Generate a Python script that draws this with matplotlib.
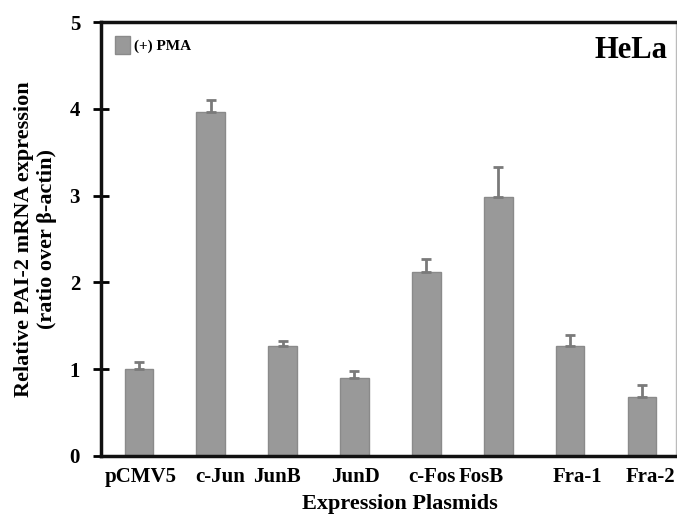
import matplotlib
matplotlib.use("Agg")
import matplotlib.pyplot as plt
import matplotlib.transforms as mtransforms
import numpy as np

categories = ["pCMV5", "c-Jun", "JunB", "JunD", "c-Fos", "FosB", "Fra-1", "Fra-2"]
values = [1.0, 3.97, 1.27, 0.90, 2.12, 2.98, 1.27, 0.68]
errors = [0.08, 0.13, 0.06, 0.08, 0.15, 0.35, 0.12, 0.14]
yticks = [0, 1, 2, 3, 4, 5]

# horizontal nudges (in points) of the category labels, as in the original figure
label_nudge_pt = [1, 7, -4, 1, 4, -12, 5, 6]

plt.rcParams['font.family'] = ['Liberation Serif', 'DejaVu Serif']
plt.rcParams['font.weight'] = 'bold'

fig = plt.figure(figsize=(6.77, 5.15), dpi=100)
ax = fig.add_axes([0.149, 0.1146, 0.849, 0.8424])

x = np.arange(len(categories))
ax.bar(x, values, width=0.40, color='#999999', edgecolor='#8a8a8a', linewidth=1,
       label='(+) PMA', zorder=2)
ax.errorbar(x, values, yerr=[np.zeros(len(errors)), errors], fmt='none',
            ecolor='#7a7a7a', elinewidth=2, capsize=3.5, capthick=2, zorder=3)

ax.set_xlim(-0.53, 7.47)
ax.set_ylim(0, 5)
ax.set_yticks(yticks)
ax.set_xticks(x)
ax.set_xticklabels(categories, fontsize=15, fontweight='bold')
ax.tick_params(axis='x', length=0, pad=8)
ax.tick_params(axis='y', direction='inout', length=12, width=2, labelsize=15, pad=9)
for t in ax.get_yticklabels():
    t.set_fontweight('bold')
for t, dx in zip(ax.get_xticklabels(), label_nudge_pt):
    t.set_transform(t.get_transform() +
                    mtransforms.ScaledTranslation(dx / 72.0, 0, fig.dpi_scale_trans))

for s in ['left', 'top', 'bottom']:
    ax.spines[s].set_linewidth(2.5)
    ax.spines[s].set_color('#111111')
ax.spines['right'].set_color('#bbbbbb')
ax.spines['right'].set_linewidth(1)

ax.set_xlabel('Expression Plasmids', fontsize=16, fontweight='bold')
ax.xaxis.set_label_coords(0.52, -0.088)
ax.set_ylabel('Relative PAI-2 mRNA expression\n(ratio over β-actin)', fontsize=16,
              fontweight='bold', labelpad=9)

ax.legend(loc='upper left', frameon=False, prop={'weight': 'bold', 'size': 11},
          handlelength=1.0, handleheight=1.4, handletextpad=0.3,
          bbox_to_anchor=(0.0, 1.0), borderaxespad=0.5)
ax.text(0.986, 0.968, 'HeLa', transform=ax.transAxes, ha='right', va='top',
        fontsize=22, fontweight='bold')

fig.savefig('out.png', dpi=100)
